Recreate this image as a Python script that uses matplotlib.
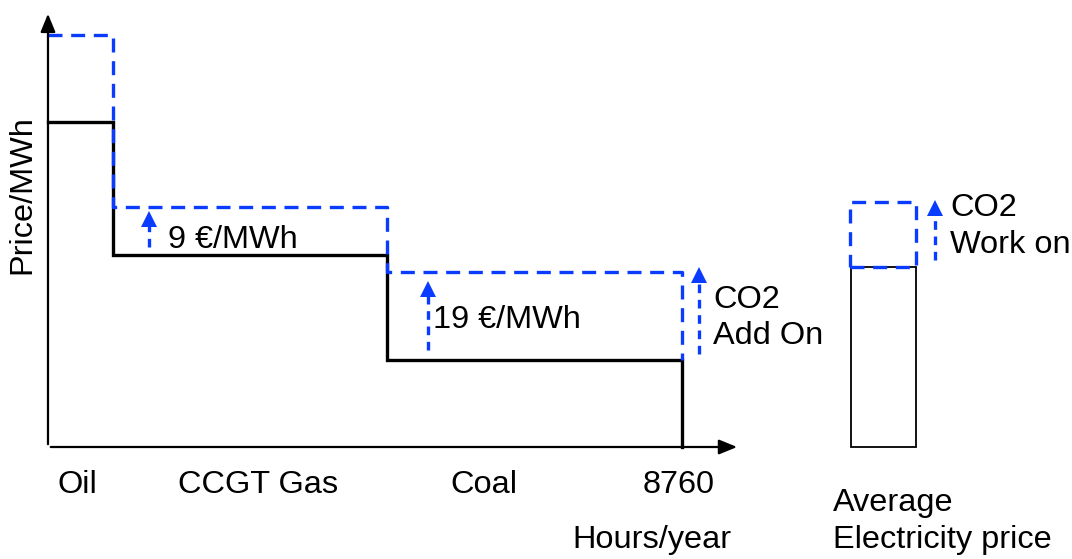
import matplotlib.pyplot as plt
import numpy as np

plt.rcParams['font.family'] = ['Liberation Sans', 'DejaVu Sans']

# merit order: hours/year where each technology stops being marginal
techs = ['Oil', 'CCGT Gas', 'Coal']
hours_end = [900, 4680, 8760]
price_base = [65, 38.5, 17.5]      # without CO2
price_co2 = [82.5, 48, 35]         # with CO2 add on
co2_labels = ['', '9 €/MWh', '19 €/MWh']

avg_price = 36
avg_price_co2 = 49

blue = '#0a3cff'

fig = plt.figure(figsize=(10.72, 5.59), dpi=100)
ax = fig.add_axes([0, 0, 1, 1])
ax.set_xlim(-663, 14149)
ax.set_ylim(-22.4, 89.4)
ax.axis('off')

# axes with arrow heads
arrow = dict(arrowstyle='-|>,head_length=1.1,head_width=0.45', color='black', lw=1.6)
ax.annotate('', xy=(0, 87.2), xytext=(0, 0), arrowprops=arrow)
ax.annotate('', xy=(9560, 0), xytext=(0, 0), arrowprops=arrow)

# step curves
starts = [0] + hours_end[:-1]
xs, ys, xb, yb = [], [], [], []
for s, e, p, pc in zip(starts, hours_end, price_base, price_co2):
    xs += [s, e]
    ys += [p, p]
    xb += [s, e]
    yb += [pc, pc]
xs.append(hours_end[-1]); ys.append(0)
xb.append(hours_end[-1]); yb.append(price_base[-1])
ax.plot(xs, ys, color='black', lw=2.4, solid_joinstyle='miter')
ax.plot(xb, yb, color=blue, lw=2.4, dashes=(4.2, 2.6))

# dashed CO2 arrows
def co2_arrow(x, y0, y1):
    ax.plot([x, x], [y0, y1 - 2.5], color=blue, lw=2.4, dashes=(2.6, 2.0))
    ax.plot([x], [y1 - 1.6], marker='^', color=blue, markersize=11, mew=0)

co2_arrow(1396, price_base[1] + 1.5, price_co2[1] - 0.8)
co2_arrow(5250, price_base[2] + 2, price_co2[2] - 1.8)
co2_arrow(8995, price_base[2] + 1.2, price_co2[2] + 1)
co2_arrow(12256, avg_price + 1.5, avg_price_co2 + 0.4)

fs = 23.4
ls = 1.3
ax.text(1660, 41.3, co2_labels[1], fontsize=fs, va='center')
ax.text(5320, 25.4, co2_labels[2], fontsize=fs, va='center')
ax.text(9188, 25.8, 'CO2\nAdd On', fontsize=fs, va='center', linespacing=ls)

# average electricity price bar
bar_x, bar_w = 11095, 900
ax.bar([bar_x], [avg_price], width=bar_w, align='edge', color='white',
       edgecolor='black', lw=1.3)
ax.bar([bar_x - 15], [avg_price_co2 - avg_price], bottom=avg_price, width=bar_w + 15,
       align='edge', fill=False, edgecolor=blue, lw=2.4, linestyle=(0, (4.2, 2.6)))
ax.text(12462, 44.1, 'CO2\nWork on', fontsize=fs, va='center', linespacing=ls)

# labels
ax.text(-359, 50.4, 'Price/MWh', fontsize=fs, rotation=90, ha='center', va='center')
label_x = [138, 1796, 5555]
for t, x in zip(techs, label_x):
    ax.text(x, -7.6, t, fontsize=fs, va='center')
ax.text(8222, -7.6, '8760', fontsize=fs, va='center')
ax.text(7240, -18.6, 'Hours/year', fontsize=fs, va='center')
ax.text(10851, -14.9, 'Average\nElectricity price', fontsize=fs, va='center', linespacing=ls)

fig.savefig('out.png', dpi=100)
